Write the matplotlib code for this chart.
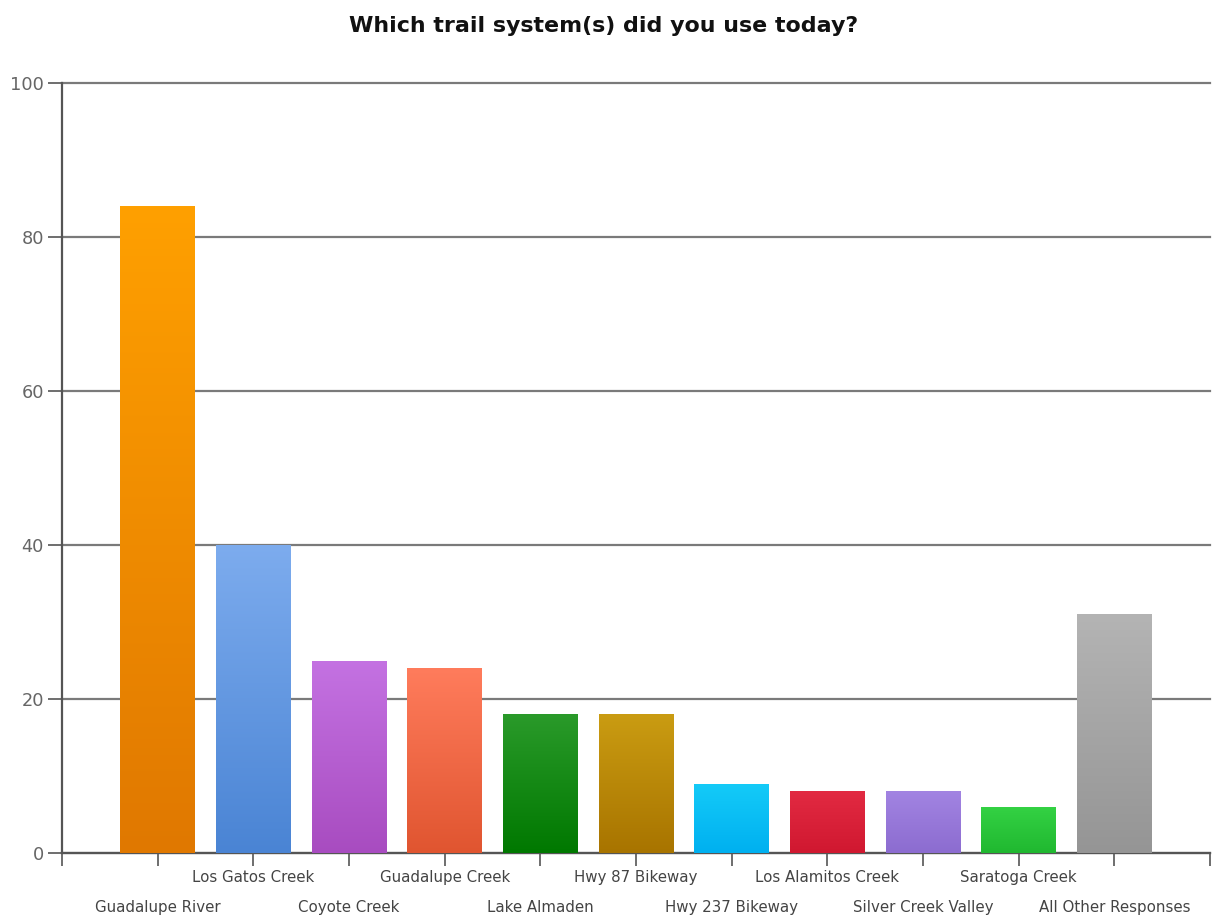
import numpy as np
import matplotlib.pyplot as plt
from matplotlib.colors import LinearSegmentedColormap

categories = ['Guadalupe River', 'Los Gatos Creek', 'Coyote Creek', 'Guadalupe Creek',
              'Lake Almaden', 'Hwy 87 Bikeway', 'Hwy 237 Bikeway', 'Los Alamitos Creek',
              'Silver Creek Valley', 'Saratoga Creek', 'All Other Responses']
values = [84, 40, 25, 24, 18, 18, 9, 8, 8, 6, 31]
top_colors = ['#FFA000', '#7DACEE', '#C472E2', '#FF7C5C', '#2A9A2A', '#CA9C12',
              '#14CBF8', '#E22A42', '#A284E2', '#34D244', '#B4B4B4']
bottom_colors = ['#E07800', '#4A84D4', '#A84CC0', '#E05530', '#007800', '#A87400',
                 '#00B0F0', '#D01830', '#8C6CD0', '#20B830', '#959595']

plt.rcParams['font.family'] = ['DejaVu Sans']

fig = plt.figure(figsize=(12.13, 9.19), dpi=100)
ax = fig.add_axes([0.0511, 0.0718, 0.9464, 0.8379])

x = np.arange(len(categories))
bars = ax.bar(x, values, width=0.78, color=bottom_colors, zorder=3)

# vertical gradient inside each bar
grad = np.linspace(1, 0, 256).reshape(-1, 1)
for bar, c_top, c_bot in zip(bars, top_colors, bottom_colors):
    cmap = LinearSegmentedColormap.from_list('g', [c_bot, c_top])
    x0, y0 = bar.get_x(), bar.get_y()
    w, h = bar.get_width(), bar.get_height()
    im = ax.imshow(grad, cmap=cmap, aspect='auto', extent=[x0, x0 + w, y0, y0 + h],
                   zorder=4, origin='upper')
    im.set_clip_path(bar)

ax.set_xlim(-1, 11)
ax.set_ylim(0, 100)
ax.set_yticks([0, 20, 40, 60, 80, 100])
ax.yaxis.grid(True, color='#7a7a7a', linewidth=1.6, zorder=1)
ax.set_axisbelow(True)
for gl in ax.yaxis.get_gridlines():
    gl.set_clip_on(False)

# alternate label rows: even index lower, odd index upper
ax.set_xticks(x[::2])
ax.set_xticklabels(categories[::2])
ax.set_xticks([-1] + list(x[1::2]) + [11], minor=True)
ax.set_xticklabels([''] + categories[1::2] + [''], minor=True)
ax.tick_params(axis='x', which='major', length=9, width=1.2, color='#555555',
               pad=25, labelsize=10.8, labelcolor='#444444')
ax.tick_params(axis='x', which='minor', length=9, width=1.2, color='#555555',
               pad=3, labelsize=10.8, labelcolor='#444444')
ax.tick_params(axis='y', length=10, width=1.2, color='#555555', pad=3,
               labelsize=12.8, labelcolor='#666666')

for side in ['top', 'right']:
    ax.spines[side].set_visible(False)
for side in ['left', 'bottom']:
    ax.spines[side].set_color('#555555')
    ax.spines[side].set_linewidth(1.6)

fig.text(0.4975, 0.972, 'Which trail system(s) did you use today?', ha='center',
         va='center', fontsize=15.9, fontweight='bold', color='#111111')

fig.savefig('out.png', dpi=100)
